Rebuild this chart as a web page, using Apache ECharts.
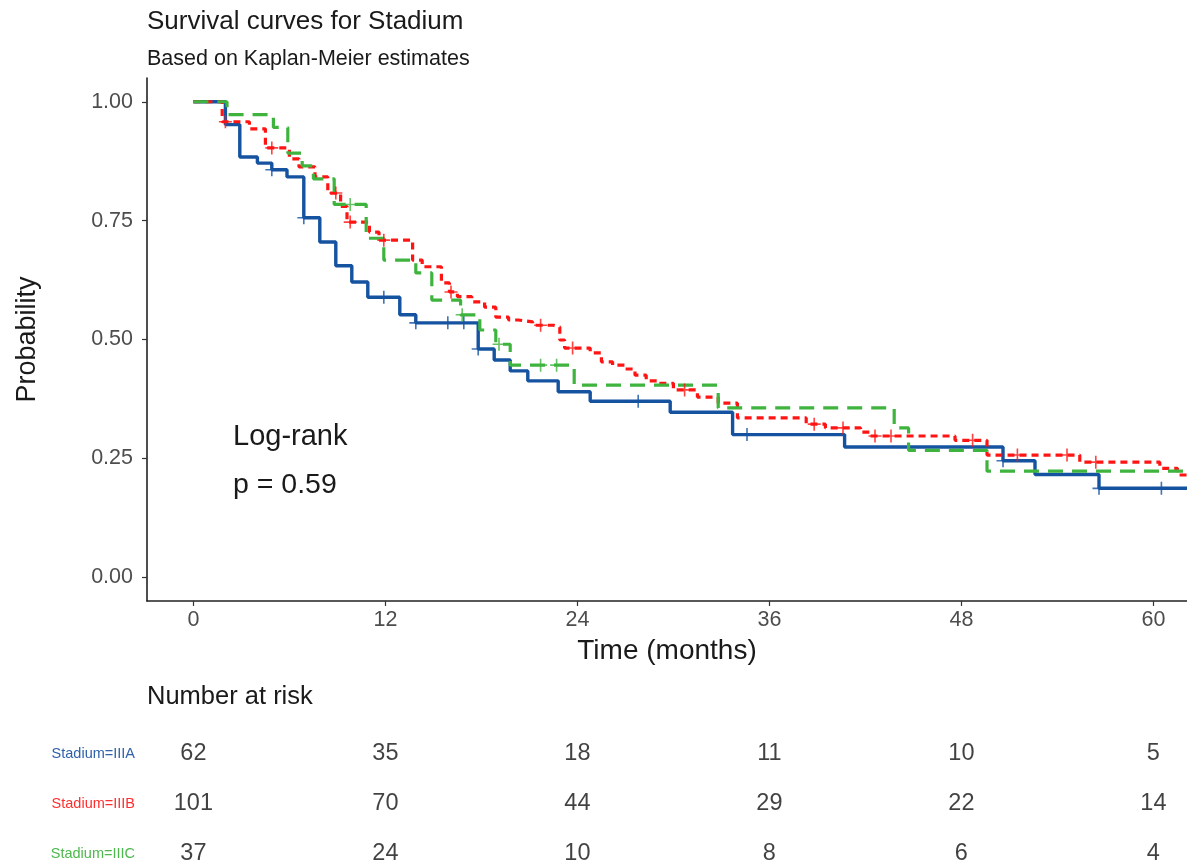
<!DOCTYPE html>
<html>
<head>
<meta charset="utf-8">
<title>Survival curves for Stadium</title>
<script src="https://cdn.jsdelivr.net/npm/echarts@6/dist/echarts.min.js"></script>
<style>
  html, body { margin: 0; padding: 0; background: #fff; }
  #chart { width: 1187px; height: 868px; }
</style>
</head>
<body>
<div id="chart"></div>
<script>
// Kaplan-Meier step estimates (time in months, survival probability after each event)
const groups = ['Stadium=IIIA', 'Stadium=IIIB', 'Stadium=IIIC'];

const timesIIIA = [0, 2.0, 2.9, 4.0, 4.9, 5.85, 6.9, 7.9, 8.9, 9.9, 10.9, 12.9, 13.9, 17.8, 18.8, 19.8, 20.9, 22.8, 24.8, 29.8, 33.7, 40.7, 50.6, 52.6, 56.6];
const survIIIA  = [1.0, 0.952, 0.884, 0.871, 0.857, 0.842, 0.756, 0.705, 0.655, 0.621, 0.589, 0.552, 0.535, 0.48, 0.457, 0.434, 0.413, 0.39, 0.37, 0.347, 0.30, 0.274, 0.245, 0.216, 0.187];
const censorIIIA = [4.9, 6.9, 11.9, 13.9, 15.9, 16.9, 17.8, 27.8, 34.6, 50.6, 56.6, 60.5];

const timesIIIB = [0, 1.8, 3.5, 4.5, 6.0, 6.6, 7.6, 8.4, 9.2, 9.6, 11.0, 11.6, 13.7, 14.3, 15.5, 16.0, 16.5, 17.4, 18.2, 18.9, 19.7, 20.3, 21.2, 22.5, 22.9, 23.2, 24.8, 25.5, 26.2, 27.0, 27.6, 28.3, 29.0, 30.0, 31.5, 32.8, 34.0, 38.3, 39.5, 41.7, 42.3, 47.6, 49.6, 55.4, 60.4, 61.5];
const survIIIB  = [1.0, 0.958, 0.943, 0.903, 0.88, 0.863, 0.842, 0.808, 0.78, 0.747, 0.726, 0.709, 0.667, 0.653, 0.619, 0.60, 0.59, 0.579, 0.568, 0.547, 0.541, 0.537, 0.53, 0.526, 0.499, 0.482, 0.472, 0.453, 0.446, 0.438, 0.425, 0.413, 0.408, 0.394, 0.379, 0.366, 0.335, 0.322, 0.314, 0.305, 0.297, 0.288, 0.257, 0.242, 0.229, 0.215];
const censorIIIB = [2.0, 4.9, 8.9, 9.8, 11.9, 16.1, 21.7, 23.7, 30.7, 38.8, 40.6, 42.6, 43.6, 48.7, 51.5, 54.6, 56.4];

const timesIIIC = [0, 2.1, 5.0, 5.9, 6.8, 7.5, 8.8, 10.8, 11.9, 13.9, 14.9, 16.7, 17.9, 18.9, 19.8, 23.8, 32.8, 43.8, 44.7, 49.6];
const survIIIC  = [1.0, 0.973, 0.946, 0.892, 0.865, 0.838, 0.784, 0.713, 0.667, 0.64, 0.583, 0.552, 0.52, 0.49, 0.446, 0.404, 0.356, 0.314, 0.267, 0.223];
const censorIIIC = [9.8, 16.8, 19.1, 21.7, 22.7];

const endTime = 62.1;

// Number at risk table
const riskTimes = [0, 12, 24, 36, 48, 60];
const riskIIIA = [62, 35, 18, 11, 10, 5];
const riskIIIB = [101, 70, 44, 29, 22, 14];
const riskIIIC = [37, 24, 10, 8, 6, 4];

// Axis ticks
const xTicks = [0, 12, 24, 36, 48, 60];
const yTicks = [0, 0.25, 0.5, 0.75, 1.0];
const rowTicks = [0, 1, 2];

const lineColors  = ['#1553A0', '#FF1414', '#3EB43E'];
const labelColors = ['#2F62AA', '#FF2E2E', '#4DB84D'];
const FONT = '"Liberation Sans", Arial, sans-serif';

function stepData(times, surv) {
  const d = times.map((t, i) => [t, surv[i]]);
  d.push([endTime, surv[surv.length - 1]]);
  return d;
}
function survAt(times, surv, t) {
  let s = surv[0];
  for (let i = 0; i < times.length; i++) { if (times[i] <= t) s = surv[i]; }
  return s;
}
function censorData(cens, times, surv) {
  return cens.map(t => [t, survAt(times, surv, t)]);
}

const PLUS = 'path://M-0.75,-6H0.75V-0.75H6V0.75H0.75V6H-0.75V0.75H-6V-0.75H-0.75Z';

const curves = [
  { times: timesIIIA, surv: survIIIA, cens: censorIIIA, dash: 'solid', width: 3.4 },
  { times: timesIIIB, surv: survIIIB, cens: censorIIIB, dash: [7, 5], width: 3.2 },
  { times: timesIIIC, surv: survIIIC, cens: censorIIIC, dash: [15, 9], width: 3.2 }
];
const risks = [riskIIIA, riskIIIB, riskIIIC];

const series = [];
curves.forEach((c, i) => {
  series.push({
    name: groups[i], type: 'line', xAxisIndex: 0, yAxisIndex: 0,
    step: 'end', symbol: 'none', data: stepData(c.times, c.surv),
    lineStyle: { color: lineColors[i], width: c.width, type: c.dash, cap: 'butt' },
    z: 2 + i
  });
  series.push({
    name: groups[i] + ' censored', type: 'scatter', xAxisIndex: 0, yAxisIndex: 0,
    symbol: PLUS, symbolSize: 13, data: censorData(c.cens, c.times, c.surv),
    itemStyle: { color: lineColors[i] }, z: 5 + i
  });
});
risks.forEach((r, g) => {
  series.push({
    name: groups[g] + ' at risk', type: 'scatter', xAxisIndex: 1, yAxisIndex: 1,
    symbolSize: 1, itemStyle: { color: 'rgba(0,0,0,0)' },
    data: riskTimes.map((t, k) => [t, g, r[k]]),
    label: {
      show: true, position: 'inside', formatter: p => String(p.value[2]),
      fontFamily: FONT, fontSize: 23.5, color: '#111111'
    }
  });
});

const chart = echarts.init(document.getElementById('chart'), null, { renderer: 'canvas' });
chart.setOption({
  animation: false,
  backgroundColor: '#ffffff',
  textStyle: { fontFamily: FONT },
  title: [
    { text: 'Survival curves for Stadium', left: 147, top: 9, padding: 0,
      textStyle: { fontFamily: FONT, fontSize: 26, fontWeight: 'normal', color: '#1a1a1a' } },
    { text: 'Based on Kaplan-Meier estimates', left: 147, top: 48, padding: 0,
      textStyle: { fontFamily: FONT, fontSize: 21.5, fontWeight: 'normal', color: '#1a1a1a' } },
    { text: 'Number at risk', left: 147, top: 684, padding: 0,
      textStyle: { fontFamily: FONT, fontSize: 25.5, fontWeight: 'normal', color: '#1a1a1a' } }
  ],
  graphic: [
    { type: 'text', left: 233, top: 422, style: { text: 'Log-rank', font: '29px ' + FONT, fill: '#1a1a1a' } },
    { type: 'text', left: 233, top: 471, style: { text: 'p = 0.59', font: '28.5px ' + FONT, fill: '#1a1a1a' } }
  ],
  grid: [
    { left: 147, right: 0, top: 78, height: 523, containLabel: false },
    { left: 147, right: 0, top: 754, height: 100, containLabel: false }
  ],
  xAxis: [
    {
      type: 'value', gridIndex: 0, min: -2.9, max: endTime,
      name: 'Time (months)', nameLocation: 'middle', nameGap: 36,
      nameTextStyle: { fontFamily: FONT, fontSize: 28, color: '#1a1a1a' },
      axisLine: { onZero: false, lineStyle: { color: '#222', width: 1.6 } },
      axisTick: { show: true, length: 5, customValues: xTicks, lineStyle: { color: '#333', width: 1.2 } },
      axisLabel: { customValues: xTicks, margin: 8, fontFamily: FONT, fontSize: 21.5, color: '#4d4d4d' },
      splitLine: { show: false }
    },
    {
      type: 'value', gridIndex: 1, min: -2.9, max: endTime, show: false
    }
  ],
  yAxis: [
    {
      type: 'value', gridIndex: 0, min: -0.05, max: 1.05,
      name: 'Probability', nameLocation: 'middle', nameGap: 106,
      nameTextStyle: { fontFamily: FONT, fontSize: 27, color: '#1a1a1a' },
      axisLine: { show: true, onZero: false, lineStyle: { color: '#222', width: 1.6 } },
      axisTick: { show: true, length: 5, customValues: yTicks, lineStyle: { color: '#333', width: 1.2 } },
      axisLabel: { customValues: yTicks, margin: 14, fontFamily: FONT, fontSize: 21.5, color: '#4d4d4d',
        formatter: v => v.toFixed(2) },
      splitLine: { show: false }
    },
    {
      type: 'value', gridIndex: 1, min: 0, max: 2, inverse: true,
      axisLine: { show: false }, axisTick: { show: false }, splitLine: { show: false },
      axisLabel: {
        customValues: rowTicks, margin: 12,
        formatter: v => '{s' + v + '|' + groups[v] + '}',
        rich: {
          s0: { color: labelColors[0], fontFamily: FONT, fontSize: 14.5 },
          s1: { color: labelColors[1], fontFamily: FONT, fontSize: 14.5 },
          s2: { color: labelColors[2], fontFamily: FONT, fontSize: 14.5 }
        }
      }
    }
  ],
  series: series
});
</script>
</body>
</html>
